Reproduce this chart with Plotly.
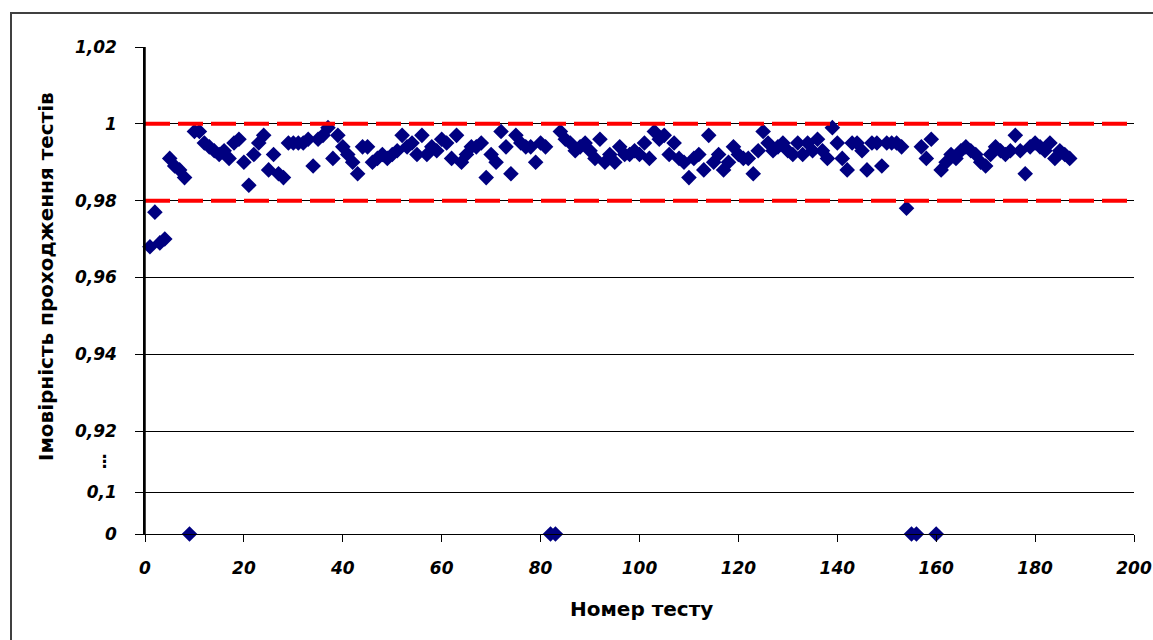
import plotly.graph_objects as go

# Test numbers and measured probability of passing the tests
test_numbers = list(range(1, 188))
pass_prob = [
    0.968, 0.977, 0.969, 0.970, 0.991, 0.989, 0.988, 0.986, 0.0, 0.998,
    0.998, 0.995, 0.994, 0.993, 0.992, 0.993, 0.991, 0.995, 0.996, 0.990,
    0.984, 0.992, 0.995, 0.997, 0.988, 0.992, 0.987, 0.986, 0.995, 0.995,
    0.995, 0.995, 0.996, 0.989, 0.996, 0.997, 0.999, 0.991, 0.997, 0.994,
    0.992, 0.990, 0.987, 0.994, 0.994, 0.990, 0.991, 0.992, 0.991, 0.992,
    0.993, 0.997, 0.994, 0.995, 0.992, 0.997, 0.992, 0.994, 0.993, 0.996,
    0.995, 0.991, 0.997, 0.990, 0.992, 0.994, 0.994, 0.995, 0.986, 0.992,
    0.990, 0.998, 0.994, 0.987, 0.997, 0.995, 0.994, 0.994, 0.990, 0.995,
    0.994, 0.0, 0.0, 0.998, 0.996, 0.995, 0.993, 0.994, 0.995, 0.993,
    0.991, 0.996, 0.990, 0.992, 0.990, 0.994, 0.992, 0.992, 0.993, 0.992,
    0.995, 0.991, 0.998, 0.996, 0.997, 0.992, 0.995, 0.991, 0.990, 0.986,
    0.991, 0.992, 0.988, 0.997, 0.990, 0.992, 0.988, 0.990, 0.994, 0.992,
    0.991, 0.991, 0.987, 0.993, 0.998, 0.995, 0.993, 0.994, 0.995, 0.993,
    0.992, 0.995, 0.992, 0.995, 0.993, 0.996, 0.993, 0.991, 0.999, 0.995,
    0.991, 0.988, 0.995, 0.995, 0.993, 0.988, 0.995, 0.995, 0.989, 0.995,
    0.995, 0.995, 0.994, 0.978, 0.0, 0.0, 0.994, 0.991, 0.996, 0.0,
    0.988, 0.990, 0.992, 0.991, 0.993, 0.994, 0.993, 0.992, 0.990, 0.989,
    0.992, 0.994, 0.993, 0.992, 0.993, 0.997, 0.993, 0.987, 0.994, 0.995,
    0.994, 0.993, 0.995, 0.991, 0.993, 0.992, 0.991,
]

# Reference band limits
upper_limit = 1.0
lower_limit = 0.98

# Axis ticks
x_ticks = [0, 20, 40, 60, 80, 100, 120, 140, 160, 180, 200]
y_ticks = [0.0, 0.1, 0.92, 0.94, 0.96, 0.98, 1.0, 1.02]

x_title = "Номер тесту"
y_title = "Імовірність проходження тестів"

# Broken y axis: values from 0.92 up keep their own scale; the 0..0.1 band is
# squeezed below a gap so that zero results still appear on the chart.
BREAK_HIGH = 0.92
BREAK_LOW = 0.1
GAP = 0.016          # axis units left empty between 0.1 and 0.92
LOW_SCALE = 0.108    # axis units per unit of probability in the 0..0.1 band


def to_axis(v):
    if v >= BREAK_HIGH:
        return v
    return BREAK_HIGH - GAP - (BREAK_LOW - v) * LOW_SCALE


def label(v):
    return f"{v:g}".replace(".", ",")


# Plot-area geometry in pixels
W, H = 1153, 640
L, R, T, B = 145, 1134, 47, 534
PW, PH = R - L, B - T


def px(xp):
    return (xp - L) / PW


def py(yp):
    return (B - yp) / PH


NAVY = "#000080"
tick_font = dict(family="DejaVu Sans", size=17, color="black", weight="bold", style="italic")

fig = go.Figure()
fig.add_trace(go.Scatter(
    x=test_numbers, y=[to_axis(p) for p in pass_prob], customdata=pass_prob,
    mode="markers", marker=dict(symbol="diamond", size=12, color=NAVY, line=dict(width=0)),
    hovertemplate="%{x}: %{customdata}<extra></extra>", cliponaxis=False))
for level in (upper_limit, lower_limit):
    fig.add_trace(go.Scatter(x=[x_ticks[0], x_ticks[-1]], y=[to_axis(level)] * 2, mode="lines",
                             line=dict(color="#FF0000", width=4, dash="25px,8px"),
                             hoverinfo="skip"))

fig.update_layout(
    width=W, height=H,
    margin=dict(l=L, r=W - R, t=T, b=H - B),
    paper_bgcolor="white", plot_bgcolor="white",
    showlegend=False,
    xaxis=dict(range=[x_ticks[0], x_ticks[-1]], tickmode="array", tickvals=x_ticks,
               ticktext=[str(t) for t in x_ticks], ticks="outside", ticklen=7,
               tickcolor="black", showgrid=False, zeroline=False, showline=True,
               linecolor="black", linewidth=1, tickfont=tick_font, automargin=False,
               ticklabeloverflow="allow", ticklabelstandoff=12),
    yaxis=dict(range=[to_axis(y_ticks[0]), to_axis(y_ticks[-1])], tickmode="array",
               tickvals=[to_axis(t) for t in y_ticks], ticktext=[label(t) for t in y_ticks],
               ticks="outside", ticklen=8, tickcolor="black", showgrid=True,
               gridcolor="black", gridwidth=1, zeroline=False, showline=True,
               linecolor="black", linewidth=1.5, tickfont=tick_font, automargin=False,
               ticklabelstandoff=15),
    shapes=[
        # chart frame
        dict(type="rect", xref="paper", yref="paper", x0=px(11), x1=px(1175),
             y0=py(690), y1=py(13), line=dict(color="#404040", width=2), layer="below"),
        # vertical axis line
        dict(type="line", xref="paper", yref="paper", x0=0, x1=0, y0=0, y1=1,
             line=dict(color="black", width=1.5), layer="above"),
    ],
    annotations=[
        dict(text="⋮", xref="paper", yref="paper", x=px(104), y=py(461), showarrow=False,
             xanchor="center", yanchor="middle",
             font=dict(family="DejaVu Sans", size=17, color="black", weight="bold")),
        dict(text=x_title, xref="paper", yref="paper", x=px(641), y=py(609), showarrow=False,
             xanchor="center", yanchor="middle",
             font=dict(family="DejaVu Sans", size=20, color="black", weight="bold")),
        dict(text=y_title, xref="paper", yref="paper", x=px(46), y=py(277), showarrow=False,
             textangle=-90, xanchor="center", yanchor="middle",
             font=dict(family="DejaVu Sans", size=20, color="black", weight="bold")),
    ],
)

fig.write_html("out.html")
